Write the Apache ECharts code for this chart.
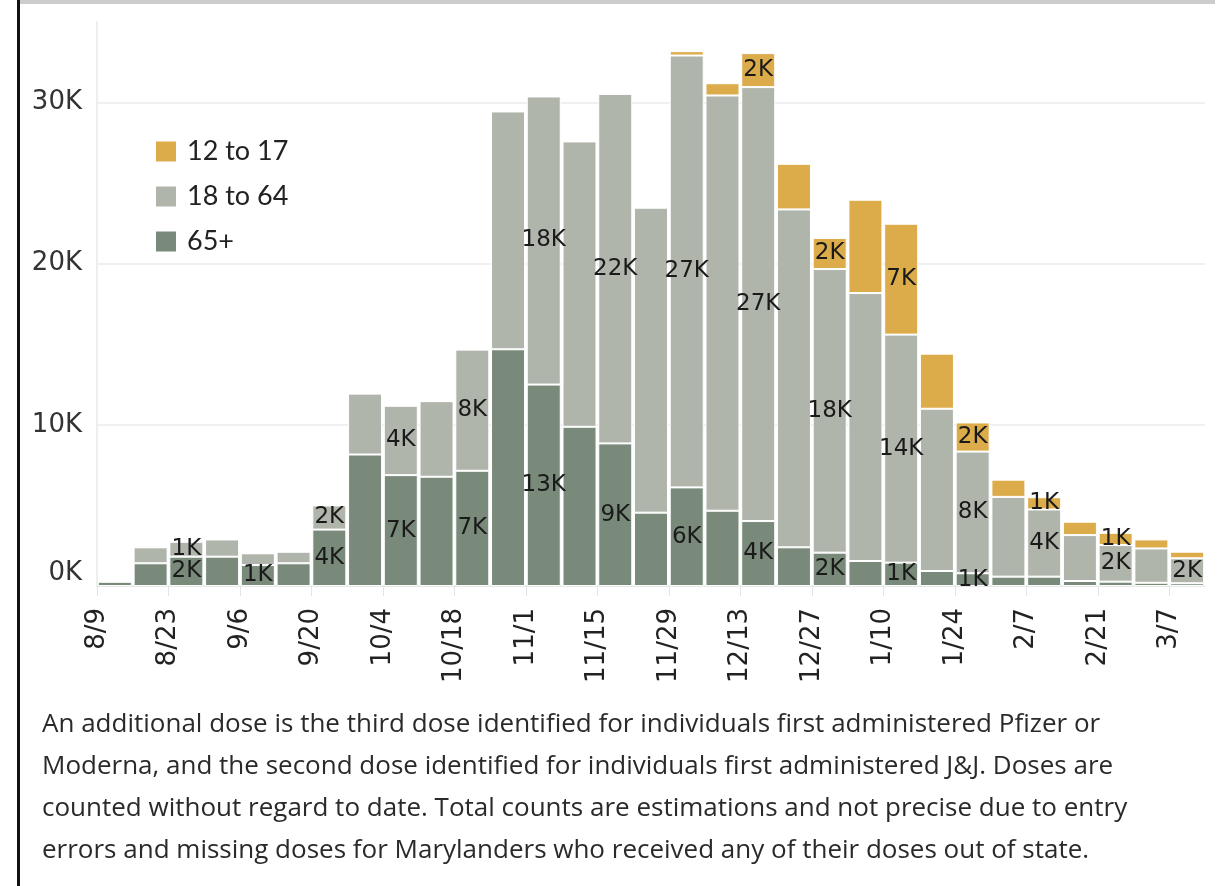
<!DOCTYPE html>
<html>
<head>
<meta charset="utf-8">
<script src="https://cdn.jsdelivr.net/npm/echarts@6/dist/echarts.min.js"></script>
<style>
  html, body { margin: 0; padding: 0; background: #fff; }
  #chart { width: 1217px; height: 886px; }
</style>
</head>
<body>
<div id="chart"></div>
<script>
// weekly additional doses by age group
var weeks = ['8/9', '8/16', '8/23', '8/30', '9/6', '9/13', '9/20', '9/27', '10/4', '10/11', '10/18', '10/25',
  '11/1', '11/8', '11/15', '11/22', '11/29', '12/6', '12/13', '12/20', '12/27', '1/3', '1/10', '1/17',
  '1/24', '1/31', '2/7', '2/14', '2/21', '2/28', '3/7'];
// tick labels sit on week boundaries, so one extra boundary at the end
var tickDates = weeks.concat(['3/14']);

var age65 = [270, 1410, 1820, 1820, 1300, 1410, 3500, 8160, 6880, 6780, 7150, 14690,
  12500, 9880, 8850, 4550, 6120, 4670, 4030, 2400, 2070, 1550, 1450, 930,
  790, 580, 580, 310, 270, 200, 170];
var age18 = [0, 990, 930, 1070, 730, 720, 1500, 3780, 4310, 4690, 7520, 14760,
  17880, 17710, 21690, 18930, 26800, 25770, 26930, 20970, 17600, 16630, 14150, 10070,
  7550, 4950, 4170, 2850, 2270, 2130, 1550];
var age12 = [0, 0, 0, 0, 0, 0, 0, 0, 0, 0, 0, 0,
  0, 0, 0, 0, 270, 760, 2110, 2830, 1930, 5790, 6880, 3420,
  1810, 1070, 760, 830, 760, 560, 410];

var caption = 'An additional dose is the third dose identified for individuals first administered Pfizer or\n' +
  'Moderna, and the second dose identified for individuals first administered J&J. Doses are\n' +
  'counted without regard to date. Total counts are estimations and not precise due to entry\n' +
  'errors and missing doses for Marylanders who received any of their doses out of state.';

var labelFont = 'DejaVu Sans';

function segLabel(p) {
  // only the labelled weeks, and only segments big enough
  if (p.dataIndex % 2 !== 0 || p.value < 750) return '';
  return Math.round(p.value / 1000) + 'K';
}

function barSeries(name, data, color) {
  return {
    name: name,
    type: 'bar',
    stack: 'doses',
    data: data,
    barWidth: 34,
    itemStyle: { color: color, borderColor: '#fff', borderWidth: 1 },
    label: {
      show: true,
      position: 'inside',
      formatter: segLabel,
      fontFamily: labelFont,
      fontSize: 23,
      color: '#1a1a1a'
    },
    emphasis: { disabled: true }
  };
}

var myChart = echarts.init(document.getElementById('chart'));
var option = {
  animation: false,
  backgroundColor: '#fff',
  grid: { left: 97, right: 12, top: 22, bottom: 300 },
  legend: {
    orient: 'vertical',
    left: 154,
    top: 138,
    padding: 0,
    icon: 'rect',
    itemWidth: 22,
    itemHeight: 22,
    itemGap: 18,
    data: ['12 to 17', '18 to 64', '65+'],
    textStyle: { fontFamily: 'Lato', fontSize: 27, lineHeight: 22, color: '#222', padding: [0, 0, 0, 5] }
  },
  xAxis: [
    {
      type: 'category',
      data: weeks,
      boundaryGap: true,
      axisLine: { show: true, lineStyle: { color: '#e8e8e8' } },
      axisTick: { show: false },
      axisLabel: { show: false }
    },
    {
      type: 'category',
      data: tickDates,
      boundaryGap: false,
      position: 'bottom',
      axisLine: { show: false },
      axisTick: { show: true, interval: 1, length: 10, lineStyle: { color: '#e4e4e4' } },
      axisLabel: {
        interval: 1,
        rotate: 90,
        margin: 22,
        fontFamily: labelFont,
        fontSize: 26,
        color: '#222'
      }
    }
  ],
  yAxis: {
    type: 'value',
    min: 0,
    max: 35000,
    interval: 10000,
    axisLine: { show: true, lineStyle: { color: '#eeeeee', width: 2 } },
    axisTick: { show: false },
    splitLine: { show: true, showMaxLine: false, lineStyle: { color: '#f0f0f0', width: 2 } },
    axisLabel: {
      showMaxLabel: false,
      verticalAlignMinLabel: 'bottom',
      margin: 15,
      fontFamily: labelFont,
      fontSize: 26,
      color: '#333',
      formatter: function (v) { return (v / 1000) + 'K'; }
    }
  },
  series: [
    barSeries('65+', age65, '#798a7a'),
    barSeries('18 to 64', age18, '#b0b5ac'),
    barSeries('12 to 17', age12, '#dcab4a')
  ],
  graphic: [
    { type: 'rect', left: 17, top: 0, shape: { width: 3, height: 886 }, style: { fill: '#111' } },
    { type: 'rect', left: 20, top: 0, shape: { width: 1195, height: 4 }, style: { fill: '#cdcbcd' } },
    {
      type: 'text',
      left: 42,
      top: 704,
      style: {
        text: caption,
        fontFamily: 'Open Sans',
        fontSize: 26,
        lineHeight: 42,
        fill: '#2a2a2a'
      }
    }
  ]
};
myChart.setOption(option);
</script>
</body>
</html>
